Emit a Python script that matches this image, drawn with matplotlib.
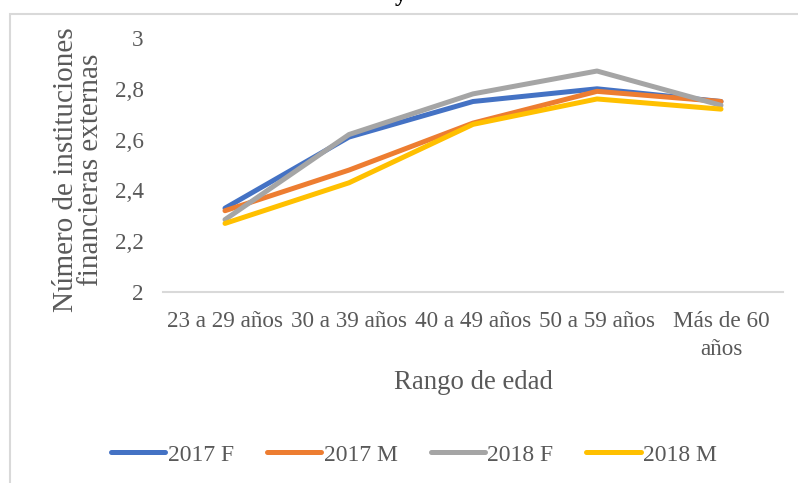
import matplotlib
matplotlib.use("Agg")
import matplotlib.pyplot as plt
from matplotlib.patches import Rectangle

# categories and series
rangos = ["23 a 29 años", "30 a 39 años", "40 a 49 años", "50 a 59 años", "Más de 60\naños"]
f_2017 = [2.33, 2.61, 2.75, 2.80, 2.75]
m_2017 = [2.32, 2.48, 2.665, 2.79, 2.75]
f_2018 = [2.285, 2.62, 2.78, 2.87, 2.735]
m_2018 = [2.27, 2.43, 2.66, 2.76, 2.72]
y_ticks = [2, 2.2, 2.4, 2.6, 2.8, 3]
y_labels = ["2", "2,2", "2,4", "2,6", "2,8", "3"]

series = [("2017 F", f_2017, "#4472C4"),
          ("2017 M", m_2017, "#ED7D31"),
          ("2018 F", f_2018, "#A5A5A5"),
          ("2018 M", m_2018, "#FFC000")]

plt.rcParams['font.family'] = ['Liberation Serif', 'DejaVu Serif']
txt = "#595959"

fig = plt.figure(figsize=(7.98, 4.83), dpi=100)
W, H = 798, 483

# chart frame (runs off the right and bottom edges)
fig.patches.append(Rectangle((10 / W, -0.1), 1.0, 1 - 14 / H + 0.1,
                             transform=fig.transFigure, fill=False,
                             edgecolor="#d9d9d9", linewidth=1.5))
# tail of the caption above the chart
fig.text(401 / W, 1 - 1 / H, "y", fontsize=17, ha="center", va="baseline",
         color="black", fontweight="bold")

ax = fig.add_axes([163 / W, 1 - 292 / H, 620 / W, 254 / H])
x = list(range(len(rangos)))
for name, vals, col in series:
    ax.plot(x, vals, color=col, linewidth=3.6, label=name,
            solid_capstyle="round", solid_joinstyle="round")

ax.set_xlim(-0.5, len(rangos) - 0.5)
ax.set_ylim(2, 3)
ax.set_yticks(y_ticks)
ax.set_yticklabels(y_labels)
ax.set_xticks(x)
ax.set_xticklabels(rangos, linespacing=1.4)
ax.tick_params(length=0, labelsize=16.7, labelcolor=txt)
ax.tick_params(axis="y", pad=14)
ax.tick_params(axis="x", pad=14)
for s in ["top", "right", "left"]:
    ax.spines[s].set_visible(False)
ax.spines["bottom"].set_color("#d9d9d9")
ax.spines["bottom"].set_linewidth(1.5)

ax.set_xlabel("Rango de edad", fontsize=19.3, color=txt, labelpad=7)
ax.set_ylabel("Número de instituciones\nfinancieras externas", fontsize=21,
              color=txt, linespacing=0.95)
ax.yaxis.set_label_coords(-0.095, 0.48)

fig.legend(loc="center", bbox_to_anchor=(414 / W, 1 - 455 / H), ncol=4,
           frameon=False, fontsize=17, handlelength=2.3, columnspacing=1.4,
           handletextpad=0.1, labelcolor=txt)

fig.savefig("out.png", dpi=100)
